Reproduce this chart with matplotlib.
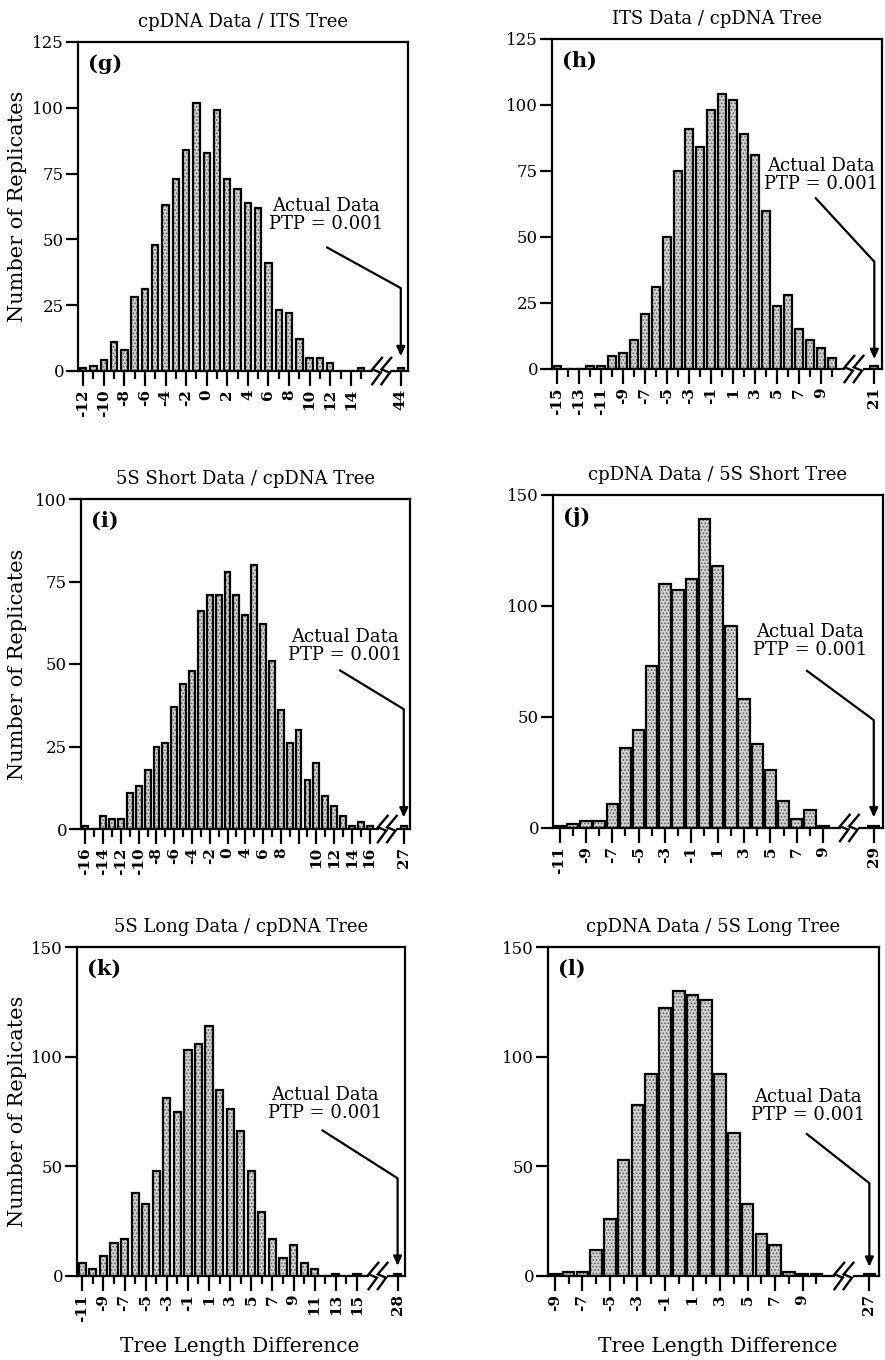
import matplotlib
matplotlib.use("Agg")
import matplotlib.pyplot as plt
import matplotlib.transforms as mtransforms
from matplotlib.ticker import FixedLocator

plt.rcParams['font.family'] = ['DejaVu Serif']
plt.rcParams['hatch.linewidth'] = 0.8

# ---------------- data ----------------
g_title = "cpDNA Data / ITS Tree"
g_diff = [-12, -11, -10, -9, -8, -7, -6, -5, -4, -3, -2, -1, 0, 1, 2, 3, 4, 5, 6, 7, 8, 9, 10, 11, 12, 13, 14, 15]
g_count = [1, 2, 4, 11, 8, 28, 31, 48, 63, 73, 84, 102, 83, 99, 73, 69, 64, 62, 41, 23, 22, 12, 5, 5, 3, 0, 0, 1]
g_actual_label = "44"
g_actual_count = 1
g_ticklabels = ["-12", "-10", "-8", "-6", "-4", "-2", "0", "2", "4", "6", "8", "10", "12", "14", "44"]
g_yticks = [0, 25, 50, 75, 100, 125]

h_title = "ITS Data / cpDNA Tree"
h_diff = [-15, -14, -13, -12, -11, -10, -9, -8, -7, -6, -5, -4, -3, -2, -1, 0, 1, 2, 3, 4, 5, 6, 7, 8, 9, 10]
h_count = [1, 0, 0, 1, 1, 5, 6, 11, 21, 31, 50, 75, 91, 84, 98, 104, 102, 89, 81, 60, 24, 28, 15, 11, 8, 4]
h_actual_label = "21"
h_actual_count = 1
h_ticklabels = ["-15", "-13", "-11", "-9", "-7", "-5", "-3", "-1", "1", "3", "5", "7", "9", "21"]
h_yticks = [0, 25, 50, 75, 100, 125]

i_title = "5S Short Data / cpDNA Tree"
i_diff = [-16, -15, -14, -13, -12, -11, -10, -9, -8, -7, -6, -5, -4, -3, -2, -1, 0,
          1, 2, 3, 4, 5, 6, 7, 8, 9, 10, 11, 12, 13, 14, 15, 16]
i_count = [1, 0, 4, 3, 3, 11, 13, 18, 25, 26, 37, 44, 48, 66, 71, 71, 78,
           71, 65, 80, 62, 51, 36, 26, 30, 15, 20, 10, 7, 4, 1, 2, 1]
i_actual_label = "27"
i_actual_count = 1
i_ticklabels = ["-16", "-14", "-12", "-10", "-8", "-6", "-4", "-2", "0", "4", "6", "8", "",
                "10", "12", "14", "16", "27"]
i_yticks = [0, 25, 50, 75, 100]

j_title = "cpDNA Data / 5S Short Tree"
j_diff = [-11, -10, -9, -8, -7, -6, -5, -4, -3, -2, -1, 0, 1, 2, 3, 4, 5, 6, 7, 8, 9]
j_count = [1, 2, 3, 3, 11, 36, 44, 73, 110, 107, 112, 139, 118, 91, 58, 38, 26, 12, 4, 8, 1]
j_actual_label = "29"
j_actual_count = 1
j_ticklabels = ["-11", "-9", "-7", "-5", "-3", "-1", "1", "3", "5", "7", "9", "29"]
j_yticks = [0, 50, 100, 150]

k_title = "5S Long Data / cpDNA Tree"
k_diff = [-11, -10, -9, -8, -7, -6, -5, -4, -3, -2, -1, 0, 1, 2, 3, 4, 5, 6, 7, 8, 9, 10, 11, 12, 13, 14, 15]
k_count = [6, 3, 9, 15, 17, 38, 33, 48, 81, 75, 103, 106, 114, 85, 76, 66, 48, 29, 17, 8, 14, 6, 3, 0, 1, 0, 1]
k_actual_label = "28"
k_actual_count = 1
k_ticklabels = ["-11", "-9", "-7", "-5", "-3", "-1", "1", "3", "5", "7", "9", "11", "13", "15", "28"]
k_yticks = [0, 50, 100, 150]

l_title = "cpDNA Data / 5S Long Tree"
l_diff = [-9, -8, -7, -6, -5, -4, -3, -2, -1, 0, 1, 2, 3, 4, 5, 6, 7, 8, 9, 10]
l_count = [1, 2, 2, 12, 26, 53, 78, 92, 122, 130, 128, 126, 92, 65, 33, 19, 14, 2, 1, 1]
l_actual_label = "27"
l_actual_count = 1
l_ticklabels = ["-9", "-7", "-5", "-3", "-1", "1", "3", "5", "7", "9", "27"]
l_yticks = [0, 50, 100, 150]

panel_letters = ["(g)", "(h)", "(i)", "(j)", "(k)", "(l)"]
annot_text = "Actual Data\nPTP = 0.001"
ylabel_text = "Number of Replicates"
xlabel_text = "Tree Length Difference"

# ---------------- layout / style ----------------
W, H = 885, 1360
DPI = 100
# pixel boxes: left, right, top, bottom
boxes = [(78, 408, 42, 371), (552, 882, 39, 369),
         (81, 410, 499, 829), (553, 883, 495, 828),
         (77, 405, 947, 1276), (548, 879, 947, 1276)]
bar_widths = [0.62, 0.72, 0.66, 0.86, 0.68, 0.84]
# text centre x, text top y, arrow start x, start y, corner y, tip y (axes fractions)
annots = [(0.752, 0.528, 0.752, 0.377, 0.252, 0.045),
          (0.815, 0.643, 0.797, 0.520, 0.325, 0.030),
          (0.803, 0.609, 0.785, 0.482, 0.363, 0.035),
          (0.779, 0.617, 0.767, 0.474, 0.324, 0.032),
          (0.757, 0.578, 0.746, 0.444, 0.297, 0.031),
          (0.785, 0.571, 0.779, 0.434, 0.282, 0.028)]

panels = [
    (g_title, g_diff, g_count, g_actual_count, g_ticklabels, g_yticks),
    (h_title, h_diff, h_count, h_actual_count, h_ticklabels, h_yticks),
    (i_title, i_diff, i_count, i_actual_count, i_ticklabels, i_yticks),
    (j_title, j_diff, j_count, j_actual_count, j_ticklabels, j_yticks),
    (k_title, k_diff, k_count, k_actual_count, k_ticklabels, k_yticks),
    (l_title, l_diff, l_count, l_actual_count, l_ticklabels, l_yticks),
]

LW = 1.6
fig = plt.figure(figsize=(W / DPI, H / DPI), dpi=DPI)

# lightning-bolt stroke for the axis break, in points relative to break centre
zig_x = [3.5, -3.5, 2.5, -3.5]
zig_y = [9.5, 1.2, -1.2, -9.5]

for idx, (title, diff, count, act_count, ticklabels, yticks) in enumerate(panels):
    l, r, t, b = boxes[idx]
    ax = fig.add_axes([l / W, 1 - b / H, (r - l) / W, (b - t) / H])
    last = diff[-1]
    break_x = last + 2.0
    out_x = last + 3.85
    xs = list(diff) + [out_x]
    ys = list(count) + [act_count]
    w = bar_widths[idx]
    ax.bar(xs, ys, width=w, facecolor='#d2d2d2', edgecolor='#5f5f5f', hatch='.....',
           linewidth=0, zorder=2)
    ax.bar(xs, ys, width=w, facecolor='none', edgecolor='black', linewidth=LW, zorder=3)

    x0, x1 = diff[0] - 0.5, out_x + 0.7
    ax.set_xlim(x0, x1)
    ax.set_ylim(0, yticks[-1])
    ax.set_yticks(yticks)

    major = list(diff[::2]) + [out_x]
    minor = list(diff[1::2])
    ax.xaxis.set_major_locator(FixedLocator(major))
    ax.xaxis.set_minor_locator(FixedLocator(minor))
    ax.set_xticklabels(ticklabels, rotation=90, fontweight='bold', fontsize=11)
    ax.tick_params(axis='x', which='major', length=11, width=LW, pad=2)
    ax.tick_params(axis='x', which='minor', length=6, width=LW)
    ax.tick_params(axis='y', length=9, width=LW, labelsize=12, pad=1)
    for sp in ax.spines.values():
        sp.set_linewidth(LW)

    ax.set_title(title, fontsize=13, pad=11)

    # axis break symbol (drawn in points around the break location)
    cx, cy0 = ax.transData.transform((break_x, 0))
    for dx in (-3.3, 3.3):
        tr = (mtransforms.Affine2D().translate(dx, 0).scale(DPI / 72.0)
              + mtransforms.Affine2D().translate(cx, cy0))
        ax.fill([-3.0, 3.0, 3.0, -3.0], [-1.6, -1.6, 1.6, 1.6], color='white',
                transform=tr, clip_on=False, zorder=6, lw=0)
    for dx in (-3.3, 3.3):
        tr = (mtransforms.Affine2D().translate(dx, 0).scale(DPI / 72.0)
              + mtransforms.Affine2D().translate(cx, cy0))
        ax.plot(zig_x, zig_y, color='black', lw=1.7, transform=tr, clip_on=False,
                zorder=7, solid_joinstyle='miter')

    # annotation
    tx, ty, sx, sy, cy, tipy = annots[idx]
    ax.text(tx, ty, annot_text, transform=ax.transAxes, ha='center', va='top',
            fontsize=13, linespacing=1.0, multialignment='center')
    blend = mtransforms.blended_transform_factory(ax.transData, ax.transAxes)
    sxd = x0 + sx * (x1 - x0)
    ax.plot([sxd, out_x], [sy, cy], transform=blend, color='black', lw=LW,
            clip_on=False, solid_capstyle='butt')
    ax.annotate('', xy=(out_x, tipy), xytext=(out_x, cy), xycoords=blend, textcoords=blend,
                arrowprops=dict(arrowstyle='-|>,head_length=0.55,head_width=0.25',
                                color='black', lw=LW, shrinkA=0, shrinkB=0))

    ax.text(0.03, 0.965, panel_letters[idx], transform=ax.transAxes, ha='left', va='top',
            fontsize=15, fontweight='bold')

    if idx % 2 == 0:
        fig.text(18 / W, 1 - (t + b) / 2 / H, ylabel_text, rotation=90,
                 ha='center', va='center', fontsize=15)

fig.text(240 / W, 1 - 1352 / H, xlabel_text, ha='center', va='baseline', fontsize=14.5)
fig.text(718 / W, 1 - 1352 / H, xlabel_text, ha='center', va='baseline', fontsize=14.5)

fig.savefig("out.png", dpi=DPI)
